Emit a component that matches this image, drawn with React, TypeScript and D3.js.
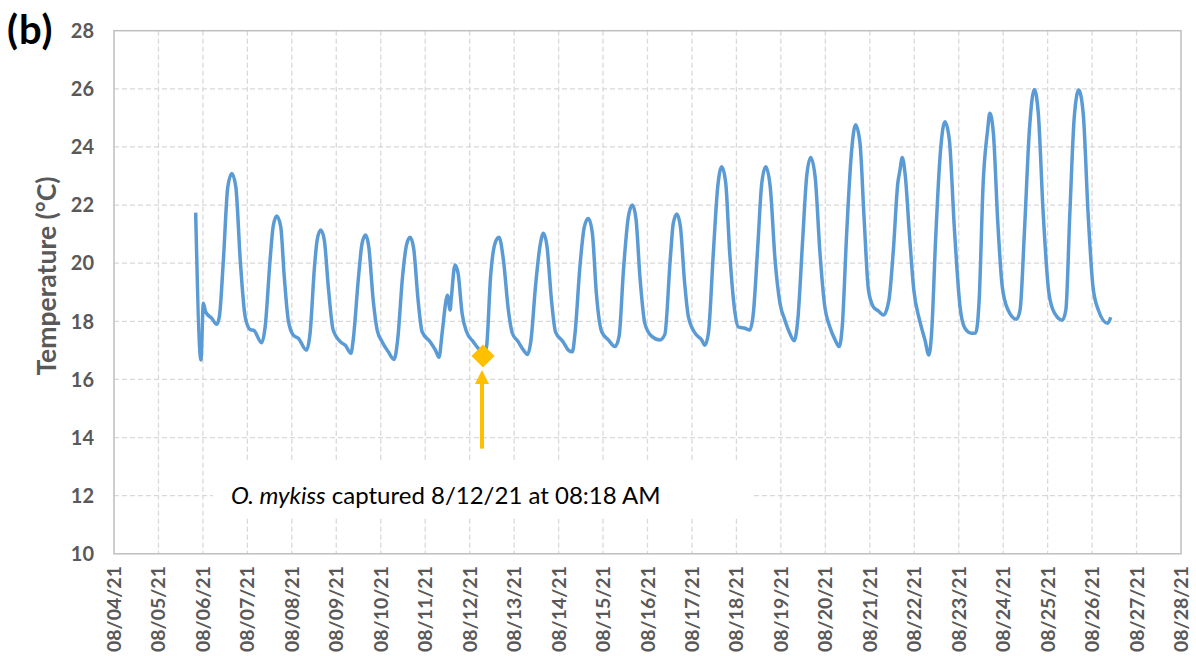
import React from "react";
import * as d3 from "d3";

// Days since 08/04/21 00:00 and water temperature (°C)
const days = [
  1.837, 1.955, 2.01, 2.06, 2.2, 2.31, 2.37, 2.46, 2.56, 2.65, 2.74, 2.84, 2.95, 3.06, 3.15, 3.32, 3.4, 3.51, 3.58, 3.66,
  3.75, 3.83, 3.92, 4.03, 4.15, 4.33, 4.41, 4.51, 4.57, 4.65, 4.73, 4.82, 4.93, 5.12, 5.2, 5.33, 5.38, 5.5, 5.58, 5.66,
  5.73, 5.83, 5.92, 6.03, 6.17, 6.3, 6.38, 6.49, 6.58, 6.66, 6.74, 6.84, 6.93, 7.11, 7.23, 7.31, 7.38, 7.47, 7.5, 7.56,
  7.59, 7.67, 7.74, 7.83, 7.93, 8.08, 8.23, 8.33, 8.38, 8.47, 8.57, 8.66, 8.76, 8.87, 8.96, 9.09, 9.21, 9.3, 9.38, 9.48,
  9.58, 9.66, 9.74, 9.84, 9.93, 10.1, 10.22, 10.31, 10.37, 10.48, 10.58, 10.67, 10.76, 10.85, 10.97, 11.12, 11.27, 11.36,
  11.46, 11.57, 11.66, 11.74, 11.83, 11.94, 12.09, 12.28, 12.39, 12.51, 12.58, 12.66, 12.74, 12.83, 12.92, 13.07, 13.22,
  13.29, 13.37, 13.48, 13.58, 13.67, 13.76, 13.85, 13.97, 14.04, 14.19, 14.3, 14.38, 14.48, 14.57, 14.66, 14.76, 14.87,
  14.98, 15.09, 15.2, 15.3, 15.38, 15.49, 15.58, 15.67, 15.77, 15.88, 15.98, 16.1, 16.22, 16.31, 16.38, 16.48, 16.58,
  16.68, 16.78, 16.87, 16.97, 17.08, 17.19, 17.31, 17.43, 17.53, 17.63, 17.68, 17.73, 17.8, 17.9, 17.99, 18.12, 18.24,
  18.33, 18.39, 18.48, 18.58, 18.69, 18.79, 18.9, 19.03, 19.14, 19.29, 19.38, 19.46, 19.55, 19.65, 19.7, 19.78, 19.88,
  19.98, 20.11, 20.3, 20.38, 20.48, 20.59, 20.7, 20.79, 20.9, 21.03, 21.16, 21.33, 21.41, 21.5, 21.6, 21.7, 21.8, 21.91,
  22.02, 22.14, 22.35, 22.42,
];
const temps = [
  21.74, 16.67, 18.62, 18.33, 18.1, 17.9, 18.16, 20.1, 22.63, 23.09, 22.63, 20.1, 18.16, 17.72, 17.68, 17.26, 17.81, 20.1, 21.26, 21.62,
  21.26, 19.53, 18.04, 17.53, 17.41, 17.01, 17.59, 19.88, 20.8, 21.14, 20.8, 19.19, 17.7, 17.26, 17.18, 16.9, 17.36, 19.53, 20.68, 20.97,
  20.57, 18.73, 17.7, 17.3, 16.95, 16.69, 17.36, 19.53, 20.63, 20.89, 20.51, 18.73, 17.64, 17.3, 17.01, 16.76, 17.59, 18.73, 18.9, 18.39,
  18.85, 19.94, 19.65, 18.27, 17.64, 17.3, 17.01, 16.9, 17.13, 19.53, 20.68, 20.89, 20.1, 18.39, 17.59, 17.3, 17.01, 16.86, 17.36, 19.19,
  20.57, 21.03, 20.57, 18.73, 17.64, 17.3, 17.01, 16.95, 17.59, 19.88, 21.26, 21.54, 21.03, 18.96, 17.64, 17.36, 17.13, 17.47,
  19.77, 21.6, 22.0, 21.54, 19.53, 17.93, 17.49, 17.36, 17.55, 20.1, 21.37, 21.69, 21.26, 19.42, 18.16, 17.59, 17.36,
  17.18, 17.59, 20.34, 22.63, 23.32, 22.75, 20.34, 18.27, 17.81, 17.76, 17.7, 18.27, 20.57, 22.75, 23.32, 22.63, 20.1,
  18.62, 18.04, 17.59, 17.33, 18.04, 20.8, 22.98, 23.64, 22.98, 20.34, 18.6, 17.81, 17.36, 17.13, 17.81, 21.03, 23.66,
  24.76, 24.13, 21.6, 19.08, 18.5, 18.36, 18.22, 18.73, 20.45, 22.75, 23.21, 23.64, 22.98, 20.8, 19.08, 18.04, 17.36,
  16.84, 17.59, 20.8, 23.66, 24.87, 24.24, 21.26, 18.5, 17.76, 17.59, 17.6, 18.73, 22.75, 24.58, 25.16, 24.47, 21.37,
  19.19, 18.39, 18.07, 18.39, 21.14, 24.58, 25.98, 25.16, 21.72, 18.96, 18.27, 18.04, 18.39, 21.72, 25.04, 25.96, 25.16, 21.72,
  19.19, 18.39, 17.93, 18.14,
];

const yTicks = [10, 12, 14, 16, 18, 20, 22, 24, 26, 28];
const startDate = Date.UTC(2021, 7, 4);
const endDate = Date.UTC(2021, 7, 28);

// Capture event
const captureDay = 8.3;
const captureTemp = 16.81;
const captureItalic = "O. mykiss";
const captureText = " captured 8/12/21 at 08:18 AM";

const W = 1196;
const H = 656;
const M = { left: 114, right: 1181, top: 30.7, bottom: 553.8 };
const DAY = 864e5;

export default function App() {
  const x = d3.scaleUtc().domain([new Date(startDate), new Date(endDate)]).range([M.left, M.right]);
  const y = d3.scaleLinear().domain([10, 28]).range([M.bottom, M.top]);
  const xTicks = d3.utcDay.range(new Date(startDate), new Date(endDate + 1));
  const fmt = d3.utcFormat("%m/%d/%y");

  const pts = days.map((d, i) => [x(new Date(startDate + d * DAY)), y(temps[i])] as [number, number]);
  const line = d3.line().curve(d3.curveMonotoneX)(pts) || "";

  const cx = x(new Date(startDate + captureDay * DAY));
  const cy = y(captureTemp);
  const ds = 11.5;
  const arrowTip = cy + 14;
  const arrowBase = arrowTip + 14;
  const arrowEnd = y(13.62);

  const tickColor = "#595959";
  const grid = "#d9d9d9";
  const font = "Lato, 'Open Sans', sans-serif";

  return (
    <svg width={W} height={H} style={{ position: "absolute", left: 0, top: 0, background: "#fff" }}>
      <rect x={0} y={0} width={W} height={H} fill="#fff" />
      {/* grid */}
      {yTicks.slice(1, -1).map((t) => (
        <line key={"h" + t} x1={M.left} x2={M.right} y1={y(t)} y2={y(t)} stroke={grid} strokeWidth={1.3} strokeDasharray="5 3" />
      ))}
      {xTicks.slice(1, -1).map((t) => (
        <line key={"v" + t.getTime()} x1={x(t)} x2={x(t)} y1={M.top} y2={M.bottom} stroke={grid} strokeWidth={1.3} strokeDasharray="5 3" />
      ))}
      {/* border */}
      <rect x={M.left} y={M.top} width={M.right - M.left} height={M.bottom - M.top} fill="none" stroke="#bfbfbf" strokeWidth={1.5} />
      {/* annotation box */}
      <rect x={213} y={y(12) - 33} width={540} height={55} fill="#fff" />
      <text x={231} y={y(12) + 8} fontFamily={font} fontSize={24} fill="#000">
        <tspan fontStyle="italic">{captureItalic}</tspan>
        <tspan>{captureText}</tspan>
      </text>
      {/* line */}
      <path d={line} fill="none" stroke="#5b9bd5" strokeWidth={3.5} strokeLinejoin="round" />
      {/* marker */}
      <path d={`M${cx},${cy - ds}L${cx + ds},${cy}L${cx},${cy + ds}L${cx - ds},${cy}Z`} fill="#ffc000" />
      {/* arrow */}
      <line x1={cx - 1} x2={cx - 1} y1={arrowBase - 1} y2={arrowEnd} stroke="#ffc000" strokeWidth={4} />
      <path d={`M${cx - 1},${arrowTip}L${cx + 6},${arrowBase}L${cx - 8},${arrowBase}Z`} fill="#ffc000" />
      {/* y ticks */}
      {yTicks.map((t) => (
        <text key={"yt" + t} x={94} y={y(t)} dy="0.36em" textAnchor="end" fontFamily={font} fontWeight="bold" fontSize={20} fill={tickColor}>
          {t}
        </text>
      ))}
      {/* x ticks */}
      {xTicks.map((t) => (
        <text
          key={"xt" + t.getTime()}
          transform={`translate(${x(t)},566) rotate(-90)`}
          dy="0.36em"
          textAnchor="end"
          fontFamily={font}
          fontWeight="bold"
          fontSize={19.5}
          fill={tickColor}
        >
          {fmt(t)}
        </text>
      ))}
      {/* axis title */}
      <text transform={`translate(56,276) rotate(-90)`} textAnchor="middle" fontFamily={font} fontWeight="bold" fontSize={26.5} fill={tickColor}>
        Temperature (°C)
      </text>
      <text x={7} y={44} fontFamily={font} fontWeight="bold" fontSize={40} letterSpacing={1} fill="#000">
        (b)
      </text>
    </svg>
  );
}
